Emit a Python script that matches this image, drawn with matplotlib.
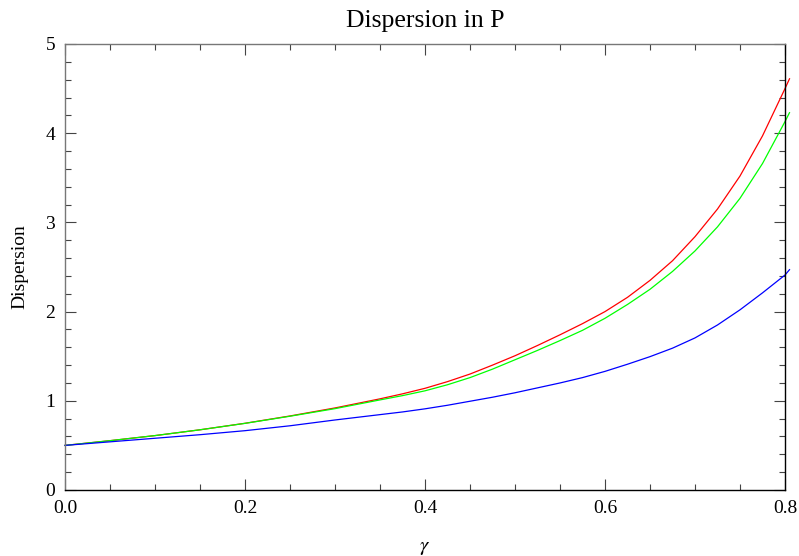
import matplotlib
matplotlib.use("Agg")
import matplotlib.pyplot as plt
from matplotlib.ticker import MultipleLocator

plt.rcParams['font.family'] = ['Liberation Serif', 'DejaVu Serif']
plt.rcParams['mathtext.fontset'] = 'stix'

# values
gamma = [0.00, 0.05, 0.10, 0.15, 0.20, 0.25, 0.30, 0.35, 0.375, 0.40,
         0.425, 0.45, 0.475, 0.50, 0.525, 0.55, 0.575, 0.60, 0.625, 0.65,
         0.675, 0.70, 0.725, 0.75, 0.775, 0.80, 0.805]
red = [0.500, 0.553, 0.610, 0.675, 0.748, 0.830, 0.920, 1.022, 1.078, 1.140,
       1.215, 1.300, 1.400, 1.505, 1.620, 1.740, 1.865, 2.000, 2.160, 2.350,
       2.570, 2.840, 3.150, 3.520, 3.970, 4.500, 4.610]
green = [0.500, 0.553, 0.610, 0.675, 0.747, 0.827, 0.912, 1.010, 1.058, 1.112,
         1.180, 1.260, 1.355, 1.460, 1.565, 1.675, 1.790, 1.925, 2.080, 2.250,
         2.450, 2.680, 2.950, 3.270, 3.660, 4.130, 4.230]
blue = [0.500, 0.540, 0.580, 0.620, 0.665, 0.720, 0.785, 0.845, 0.875, 0.910,
        0.950, 0.995, 1.040, 1.090, 1.145, 1.200, 1.260, 1.330, 1.410, 1.495,
        1.590, 1.705, 1.850, 2.020, 2.210, 2.410, 2.470]

fig = plt.figure(figsize=(7.99, 5.56), dpi=100)
ax = fig.add_axes([65/799, 66/556, 720/799, 446/556])

for ys, c in [(red, '#ff0000'), (green, '#00ff00'), (blue, '#0000ff')]:
    ax.plot(gamma, ys, color=c, lw=0.9, clip_on=False)

ax.set_xlim(0, 0.8)
ax.set_ylim(0, 5)
ax.xaxis.set_minor_locator(MultipleLocator(0.05))
ax.yaxis.set_major_locator(MultipleLocator(1))
ax.yaxis.set_minor_locator(MultipleLocator(0.2))
ax.set_xticks([0.0, 0.2, 0.4, 0.6, 0.8])
ax.set_xticklabels(['0.0', '0.2', '0.4', '0.6', '0.8'])

ax.tick_params(which='both', direction='in', top=True, right=True,
               labelsize=14, color='#444444', width=0.8, pad=7)
ax.tick_params(which='major', length=8)
ax.tick_params(which='minor', length=4)

for side in ['left', 'top']:
    ax.spines[side].set_color('#777777')
for side in ['bottom', 'right']:
    ax.spines[side].set_color('black')
for s in ax.spines.values():
    s.set_linewidth(1.0)

ax.set_title('Dispersion in P', fontsize=18.5, pad=12)
ax.set_ylabel('Dispersion', fontsize=14, labelpad=12)
ax.set_xlabel(r'$\gamma$', fontsize=15, labelpad=15)

fig.savefig('out.png', dpi=100)
